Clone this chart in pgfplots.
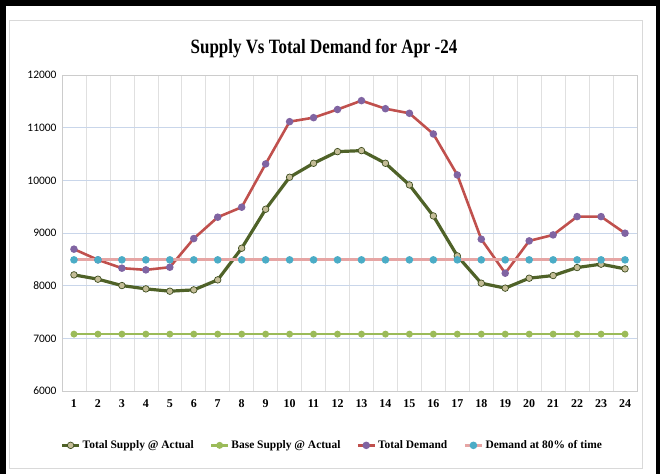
\documentclass[border=0pt]{standalone}
\usepackage{pgfplots}
\pgfplotsset{compat=1.18}
\usepackage{fontspec}
\setmainfont{Liberation Serif}
\newfontfamily\carlito{Carlito}
\definecolor{supply}{HTML}{4F6228}
\definecolor{khaki}{HTML}{C4BD97}
\definecolor{basegreen}{HTML}{9BBB59}
\definecolor{demandred}{HTML}{C0504D}
\definecolor{demandpurple}{HTML}{8064A2}
\definecolor{pinkline}{HTML}{E6A5A4}
\definecolor{cyanmark}{HTML}{4BACC6}
\definecolor{gridblue}{HTML}{C9D6EA}
\begin{document}
\begin{tikzpicture}
\path[use as bounding box] (0bp,0bp) rectangle (664bp,474bp);
\fill[black] (0bp,0bp) rectangle (6bp,474bp);
\fill[black] (0bp,468bp) rectangle (660bp,474bp);
\fill[black] (656bp,0bp) rectangle (660bp,474bp);
\draw[black!15] (9bp,6bp) rectangle (642bp,454bp);
\node[font=\bfseries\fontsize{17}{20}\selectfont] at (324bp,425bp) {\scalebox{1}[1.2]{Supply Vs Total Demand for Apr -24}};
\begin{axis}[
  at={(62bp,83bp)}, anchor=south west,
  scale only axis, width=575bp, height=316bp,
  xmin=0.5, xmax=24.5, ymin=6000, ymax=12000,
  xtick={1,...,24}, ytick={6000,7000,...,12000},
  minor xtick={1.5,2.5,...,23.5},
  ymajorgrids, xminorgrids,
  major grid style={draw=gridblue, line width=0.8pt},
  minor grid style={draw=black!12, line width=0.6pt},
  tick style={draw=none},
  axis line style={draw=black!20},
  scaled y ticks=false,
  /pgf/number format/assume math mode=true,
  /pgf/number format/1000 sep={},
  y tick label style={font=\carlito\fontsize{11.5}{13}\selectfont, xshift=-2bp},
  x tick label style={font=\bfseries\fontsize{12}{14}\selectfont, yshift=-5bp},
  legend style={at={(0.47,-0.172)}, anchor=center, draw=none, fill=none,
    legend columns=4, font=\bfseries\fontsize{11.5}{13}\selectfont,
    /tikz/every even column/.append style={column sep=14bp}},
  legend cell align=left,
]
\addplot[supply, line width=3.2pt, mark=*, mark size=3.3pt,
  mark options={fill=khaki, draw=supply!80!black, line width=0.7pt}]
coordinates {(1,8205)(2,8123)(3,8002)(4,7939)(5,7895)(6,7920)(7,8110)(8,8711)
(9,9451)(10,10059)(11,10324)(12,10545)(13,10564)(14,10324)(15,9913)(16,9324)
(17,8565)(18,8047)(19,7953)(20,8142)(21,8192)(22,8344)(23,8408)(24,8319)};
\addlegendentry{Total Supply @ Actual}
\addplot[basegreen, line width=2.6pt, mark=*, mark size=2.1pt,
  mark options={fill=basegreen, draw=basegreen}]
coordinates {(1,7080)(2,7080)(3,7080)(4,7080)(5,7080)(6,7080)(7,7080)(8,7080)
(9,7080)(10,7080)(11,7080)(12,7080)(13,7080)(14,7080)(15,7080)(16,7080)
(17,7080)(18,7080)(19,7080)(20,7080)(21,7080)(22,7080)(23,7080)(24,7080)};
\addlegendentry{Base Supply @ Actual}
\addplot[demandred, line width=2.6pt, mark=*, mark size=2.4pt,
  mark options={fill=demandpurple, draw=demandpurple}]
coordinates {(1,8693)(2,8490)(3,8332)(4,8300)(5,8350)(6,8894)(7,9300)(8,9490)
(9,10311)(10,11114)(11,11190)(12,11345)(13,11513)(14,11360)(15,11273)(16,10880)
(17,10102)(18,8882)(19,8237)(20,8850)(21,8964)(22,9311)(23,9311)(24,8996)};
\addlegendentry{Total Demand}
\addplot[pinkline, line width=3.2pt, mark=*, mark size=2.1pt,
  mark options={fill=cyanmark, draw=cyanmark}]
coordinates {(1,8490)(2,8490)(3,8490)(4,8490)(5,8490)(6,8490)(7,8490)(8,8490)
(9,8490)(10,8490)(11,8490)(12,8490)(13,8490)(14,8490)(15,8490)(16,8490)
(17,8490)(18,8490)(19,8490)(20,8490)(21,8490)(22,8490)(23,8490)(24,8490)};
\addlegendentry{Demand at 80\% of time}
\end{axis}
\end{tikzpicture}
\end{document}
